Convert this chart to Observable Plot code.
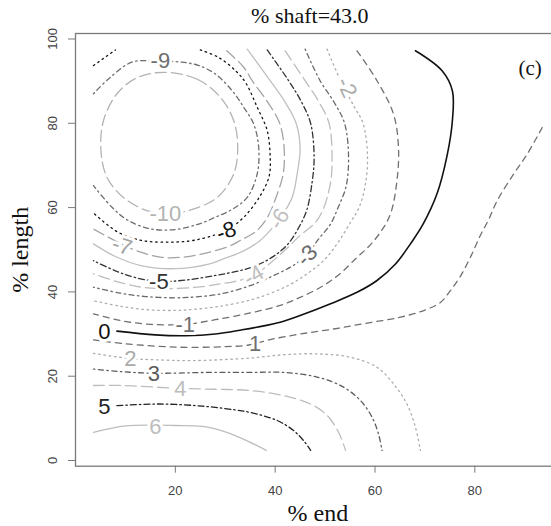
<!DOCTYPE html>
<html>
<head>
<meta charset="utf-8">
<script src="https://cdn.jsdelivr.net/npm/d3@7"></script>
<script src="https://cdn.jsdelivr.net/npm/@observablehq/plot@0.6"></script>
<style>
  html, body { margin: 0; padding: 0; background: #fff; overflow: hidden; }
  svg { overflow: hidden; display: block; }
</style>
</head>
<body>
<script>
// ---- tick labels ----
const xTicks = [20, 40, 60, 80];
const yTicks = [0, 20, 40, 60, 80, 100];

// ---- contour polylines: [% end, % length] ----
const cM10 = [[17.7,92.1],[24.3,90.5],[29.0,86.2],[31.7,80.6],[32.5,74.3],[31.7,68.0],[28.4,62.4],[23.7,59.7],[19.0,58.6],[14.3,59.3],[9.6,62.4],[6.3,67.2],[5.1,73.5],[5.6,80.6],[8.3,87.0],[12.3,90.8]];
const cM9 = [[3.6,87.0],[6.6,90.5],[11.3,94.5],[17.0,94.7],[21.3,94.5],[24.7,93.7],[28.0,91.7],[31.4,87.7],[33.7,83.8],[35.7,79.8],[36.7,74.3],[36.4,68.0],[34.4,62.4],[31.4,59.6],[28.0,57.7],[24.7,56.1],[20.0,54.8],[15.3,54.9],[10.6,56.9],[7.3,60.1],[3.6,65.2]];
const cM8a = [[3.6,93.7],[8.0,97.4]];
const cM8 = [[25.0,97.4],[28.7,95.6],[32.3,92.2],[34.2,89.4],[36.4,83.8],[38.4,78.3],[39.0,71.9],[38.8,67.5],[37.0,62.8],[33.7,57.7],[30.2,54.6],[24.0,52.3],[18.7,51.8],[13.3,52.2],[8.6,54.1],[3.6,58.7]];
const cM7 = [[30.3,97.2],[33.7,93.3],[35.4,90.1],[38.5,85.0],[40.9,80.0],[41.8,74.0],[41.6,68.0],[40.2,62.5],[38.6,58.0],[36.4,54.6],[33.0,52.2],[30.7,50.8],[26.7,49.4],[22.0,48.3],[17.3,48.2],[12.6,49.6],[9.3,51.3],[3.6,54.9]];
const cM6 = [[34.4,97.6],[39.0,90.1],[42.0,85.0],[44.2,80.0],[45.0,74.0],[44.4,68.0],[43.4,62.4],[41.0,57.5],[39.0,54.6],[37.0,52.2],[33.5,49.6],[30.0,48.0],[26.7,46.6],[20.0,45.5],[13.3,46.2],[8.0,48.4],[3.6,51.4]];
const cM5 = [[38.4,97.4],[42.7,90.1],[45.3,85.0],[47.1,80.0],[47.8,72.0],[47.4,66.0],[46.3,59.3],[44.6,55.0],[42.6,51.4],[39.5,48.3],[35.7,46.0],[32.0,44.8],[28.0,43.9],[22.0,42.8],[16.7,42.5],[12.0,43.4],[8.0,45.0],[3.6,47.4]];
const cM4 = [[42.0,97.2],[46.0,90.1],[48.8,85.0],[50.8,80.0],[51.4,72.0],[51.1,66.0],[49.6,59.5],[48.0,56.4],[45.0,53.4],[42.4,50.4],[39.0,46.8],[35.7,43.9],[32.0,42.5],[29.0,41.9],[25.0,41.2],[20.0,40.8],[14.0,41.0],[9.0,42.2],[3.6,44.3]];
const cM3 = [[46.0,97.6],[49.0,90.1],[51.8,85.0],[53.9,80.0],[54.7,72.0],[54.2,65.0],[52.6,60.0],[51.1,56.1],[48.6,52.4],[46.4,48.8],[43.8,46.4],[41.0,44.6],[35.0,41.5],[29.0,39.5],[24.0,38.8],[20.0,38.6],[14.0,38.9],[9.0,39.7],[3.6,41.1]];
const cM2 = [[50.4,97.6],[53.1,90.1],[55.8,84.0],[57.6,80.0],[58.5,72.0],[58.0,65.0],[56.8,60.0],[55.1,56.5],[52.4,51.4],[49.7,47.4],[46.4,44.3],[42.4,41.4],[36.0,38.4],[29.0,36.6],[24.0,35.9],[20.0,35.6],[14.0,35.8],[9.0,36.6],[3.6,37.9]];
const cM1 = [[56.4,97.2],[60.4,90.1],[63.7,82.2],[64.7,74.3],[64.4,66.4],[63.1,58.5],[61.0,54.0],[58.6,50.6],[56.4,48.2],[53.0,44.3],[49.1,41.1],[45.0,38.7],[41.0,36.8],[35.0,35.0],[28.0,33.4],[22.0,32.3],[15.0,32.3],[9.0,33.2],[3.6,34.8]];
const c0 = [[8.3,30.7],[16.0,29.8],[22.0,29.6],[28.0,30.0],[33.4,31.0],[38.0,32.0],[41.0,32.8],[45.0,34.4],[51.1,37.2],[56.4,39.9],[60.4,42.7],[64.1,46.6],[67.1,51.4],[69.6,56.0],[72.4,63.2],[74.5,72.7],[75.5,80.6],[75.5,87.7],[73.4,92.5],[68.1,97.2]];
const cP1 = [[3.6,28.6],[10.0,27.7],[20.0,26.9],[30.0,27.0],[34.7,27.4],[39.0,28.7],[45.0,30.0],[51.7,31.2],[58.4,32.6],[65.1,34.0],[70.0,35.7],[73.1,37.5],[75.1,40.3],[77.1,43.7],[79.1,48.2],[81.1,53.4],[82.7,57.0],[84.5,61.7],[87.8,68.0],[90.5,72.7],[93.5,79.0]];
const cP2 = [[3.6,25.4],[11.0,24.2],[16.0,23.9],[23.3,23.7],[35.0,24.3],[41.7,25.1],[48.4,25.3],[55.1,24.5],[60.4,22.1],[63.7,18.2],[66.4,13.4],[68.1,7.9],[69.1,2.4]];
const cP3 = [[3.6,21.7],[9.0,21.1],[15.7,20.7],[26.7,20.9],[35.0,20.9],[41.7,20.9],[48.4,19.8],[53.7,17.4],[57.1,14.2],[59.4,10.3],[60.7,6.3],[61.4,2.4]];
const cP4 = [[3.6,17.8],[9.3,17.8],[21.0,17.1],[28.0,16.9],[35.0,16.6],[41.7,15.4],[47.1,13.4],[50.4,10.7],[52.7,6.7],[54.1,2.4]];
const cP5 = [[8.3,13.0],[16.7,13.4],[25.4,12.9],[32.0,12.0],[35.0,11.4],[40.4,9.5],[43.7,7.1],[45.7,4.7],[47.1,2.4]];
const cP6 = [[3.6,6.7],[10.0,8.2],[16.0,8.4],[20.0,8.3],[25.4,8.1],[30.0,6.8],[34.7,4.5],[38.2,2.4]];

// ---- contour labels ----
const labelText = ["-10","-9","-8","-7","-6","-5","-4","-3","-2","-1","0","1","2","3","4","5","6"];
const labelX    = [18.0, 17.0, 30.2, 9.3, 40.8, 16.7, 35.7, 46.4, 54.3, 22.0, 5.8, 36.0, 11.0, 15.7, 21.0, 5.8, 16.0];
const labelY    = [58.6, 94.7, 54.4, 50.9, 57.3, 42.4, 43.9, 48.6, 88.5, 32.2, 30.6, 27.7, 24.0, 20.6, 17.0, 12.8, 7.9];

// ---- styles (per level) ----
const COL = {m10:"#b3b3b3", m9:"#6e6e6e", m8:"#141414", m7:"#a3a3a3", m6:"#c0c0c0", m5:"#333333", m4:"#bdbdbd", m3:"#6a6a6a", m2:"#ababab", m1:"#707070",
             z:"#111111", p1:"#707070", p2:"#ababab", p3:"#5c5c5c", p4:"#bdbdbd", p5:"#222222", p6:"#bdbdbd"};
const DASH = {dashed:"6,5", dotted:"1.5,3.8", dotdash:"1.5,3.5,5,3.5", longdash:"11,5", twodash:"6,3,1.5,3", solid:null};
const labelColor = [COL.m10, COL.m9, COL.m8, COL.m7, COL.m6, COL.m5, COL.m4, COL.m3, COL.m2, COL.m1, COL.z, COL.p1, COL.p2, COL.p3, COL.p4, COL.p5, COL.p6];
const labelRotate = [0, 0, -20, 18, -58, 0, -30, -45, 65, 0, 0, 0, 0, 0, 0, 0, 0];

const series = [
  [cM9, COL.m9, DASH.dotdash], [cM8a, COL.m8, DASH.dotted], [cM8, COL.m8, DASH.dotted],
  [cM7, COL.m7, DASH.longdash], [cM6, COL.m6, DASH.solid], [cM5, COL.m5, DASH.twodash],
  [cM4, COL.m4, DASH.longdash], [cM3, COL.m3, DASH.dotdash], [cM2, COL.m2, DASH.dotted],
  [cM1, COL.m1, DASH.dashed], [c0, COL.z, DASH.solid], [cP1, COL.p1, DASH.dashed],
  [cP2, COL.p2, DASH.dotted], [cP3, COL.p3, DASH.dotdash], [cP4, COL.p4, DASH.longdash],
  [cP5, COL.p5, DASH.twodash], [cP6, COL.p6, DASH.solid]
];

const labels = labelText.map((t, i) => ({t, x: labelX[i], y: labelY[i], c: labelColor[i], r: labelRotate[i]}));

const sans = "'Liberation Sans', Arial, sans-serif";
const serif = "'Liberation Serif', 'Times New Roman', serif";
const mid = {textAnchor: "middle", lineAnchor: "middle"};

const marks = [
  Plot.line(cM10, {x: d => d[0], y: d => d[1], stroke: COL.m10, strokeWidth: 1.3, strokeDasharray: DASH.longdash, curve: "catmull-rom-closed"}),
  ...series.map(([arr, c, dash]) => Plot.line(arr, {x: d => d[0], y: d => d[1], stroke: c, strokeWidth: c === COL.z ? 1.6 : 1.3, strokeDasharray: dash, curve: "catmull-rom"})),
  Plot.text(labels, {x: "x", y: "y", text: "t", fill: "c", rotate: "r", stroke: "white", strokeWidth: 6, fontSize: 22, fontFamily: sans}),
  Plot.frame({stroke: "#7a7a7a", strokeWidth: 1.3}),
  Plot.axisX({ticks: xTicks, tickSize: 7, tickFormat: () => "", label: null, stroke: "#7a7a7a"}),
  Plot.axisY({ticks: yTicks, tickSize: 7, tickFormat: () => "", label: null, stroke: "#7a7a7a"}),
  Plot.text(xTicks, {x: d => d, frameAnchor: "bottom", dy: 25, ...mid, text: d => String(d), fontSize: 13, fill: "#444", fontFamily: sans}),
  Plot.text(yTicks, {y: d => d, frameAnchor: "left", dx: -23, ...mid, rotate: -90, text: d => String(d), fontSize: 13, fill: "#444", fontFamily: sans}),
  Plot.text(["% shaft=43.0"], {frameAnchor: "top", dx: -8, dy: -18, ...mid, fontSize: 22, fill: "#111", fontFamily: serif}),
  Plot.text(["% end"], {frameAnchor: "bottom", dy: 47, ...mid, fontSize: 24, fill: "#111", fontFamily: serif}),
  Plot.text(["% length"], {frameAnchor: "left", dx: -55, ...mid, rotate: -90, fontSize: 24, fill: "#111", fontFamily: serif}),
  Plot.text(["(c)"], {frameAnchor: "top-right", dx: -30, dy: 35, ...mid, fontSize: 21, fill: "#111", fontFamily: serif})
];

const chart = Plot.plot({
  width: 551,
  height: 526,
  marginLeft: 75,
  marginRight: -8.7,
  marginTop: 33,
  marginBottom: 60.3,
  x: {domain: [0, 97.1], axis: null},
  y: {domain: [-1.35, 101.3], axis: null},
  color: {type: "identity"},
  style: {background: "white"},
  marks
});
document.body.appendChild(chart);
</script>
</body>
</html>
